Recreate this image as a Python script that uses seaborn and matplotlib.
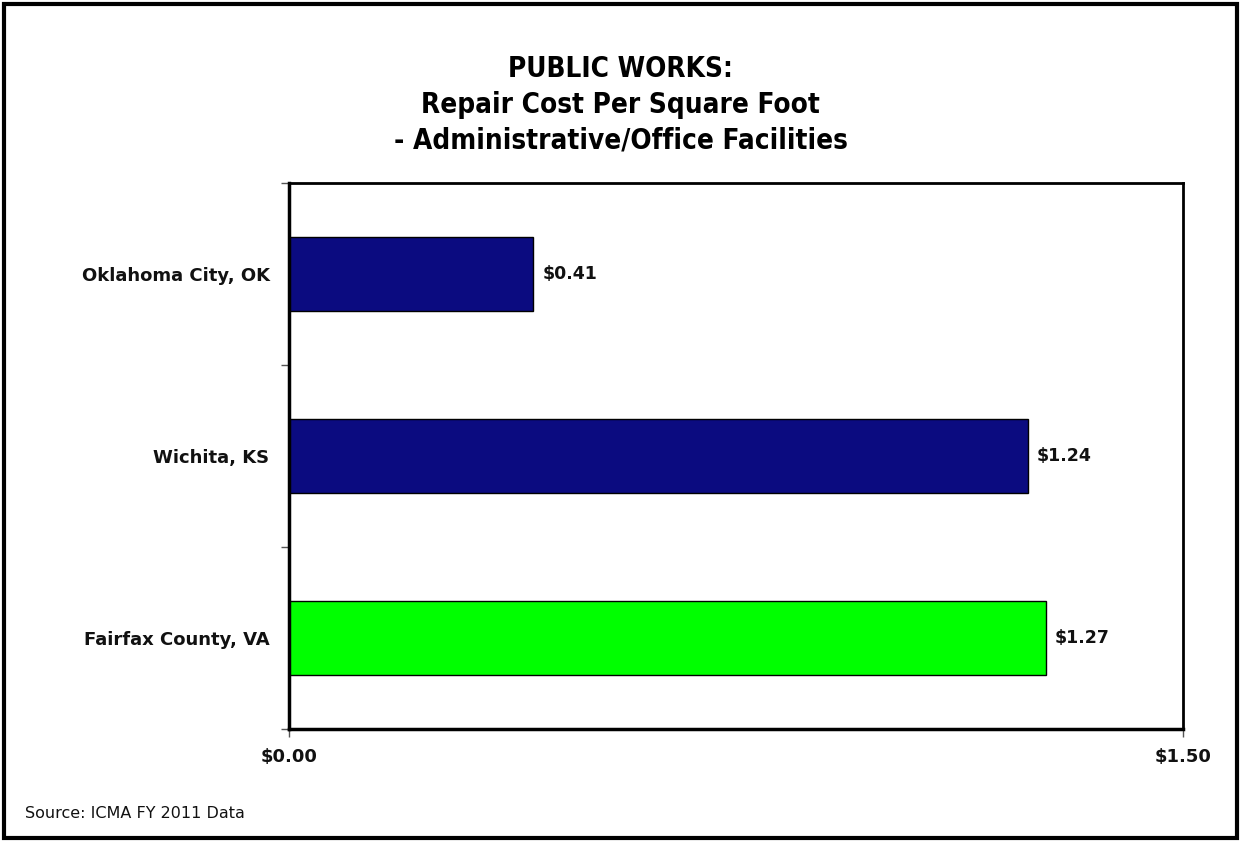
import matplotlib
matplotlib.use("Agg")
import matplotlib.pyplot as plt
import seaborn as sns
import pandas as pd
from matplotlib.patches import Rectangle

# Chart data
cities = ["Oklahoma City, OK", "Wichita, KS", "Fairfax County, VA"]
cost_per_sqft = [0.41, 1.24, 1.27]
bar_colors = ["#0B0B80", "#0B0B80", "#00FF00"]
x_ticks = [0.0, 1.5]
x_tick_labels = ["$0.00", "$1.50"]

df = pd.DataFrame({"city": cities, "cost": cost_per_sqft})

sns.set_theme(style="white")
plt.rcParams["font.family"] = ["DejaVu Sans"]

fig = plt.figure(figsize=(12.41, 8.44), dpi=100)
ax = fig.add_axes([289 / 1241, 1 - 729 / 844, (1183 - 289) / 1241, (729 - 183) / 844])

sns.barplot(data=df, x="cost", y="city", hue="city", palette=bar_colors,
            order=cities, hue_order=cities, orient="h", width=0.41, saturation=1,
            edgecolor="black", linewidth=1, legend=False, ax=ax)

for p, v in zip(ax.patches, cost_per_sqft):
    ax.text(p.get_width() + 0.015, p.get_y() + p.get_height() / 2, f"${v:.2f}",
            va="center", ha="left", fontsize=12.5, fontweight="bold", color="#111111")

ax.set_xlim(0, 1.5)
ax.set_ylim(2.5, -0.5)
ax.set_xticks(x_ticks)
ax.set_xticklabels(x_tick_labels, fontsize=13, fontweight="bold", color="#111111")
ax.set_yticks(range(len(cities)))
ax.set_yticklabels(cities, fontsize=13, fontweight="bold", color="#111111")
ax.set_yticks([-0.5, 0.5, 1.5, 2.5], minor=True)
ax.tick_params(axis="y", which="major", length=0, pad=14)
ax.tick_params(axis="y", which="minor", length=6, width=1, color="#555555", left=True)
ax.tick_params(axis="x", which="major", length=6, width=1, color="#555555", bottom=True, pad=8)
ax.set_xlabel("")
ax.set_ylabel("")

for side in ["left", "bottom"]:
    ax.spines[side].set_linewidth(2.5)
for side in ["top", "right"]:
    ax.spines[side].set_linewidth(2)
for s in ax.spines.values():
    s.set_color("black")

fig.text(0.5, 1 - 105 / 844, "PUBLIC WORKS:\nRepair Cost Per Square Foot\n- Administrative/Office Facilities",
         ha="center", va="center", fontsize=20, fontweight="bold", fontstretch="condensed",
         family=["DejaVu Sans"], linespacing=1.35, color="black")
fig.text(25 / 1241, 1 - 813 / 844, "Source: ICMA FY 2011 Data", ha="left", va="center", fontsize=11.5,
         family=["DejaVu Sans"], color="#111111")

# outer frame
fig.patches.append(Rectangle((4 / 1241, 1 - 838 / 844), 1233 / 1241, 834 / 844, transform=fig.transFigure,
                             fill=False, edgecolor="black", linewidth=3))

fig.savefig("out.png", dpi=100)
